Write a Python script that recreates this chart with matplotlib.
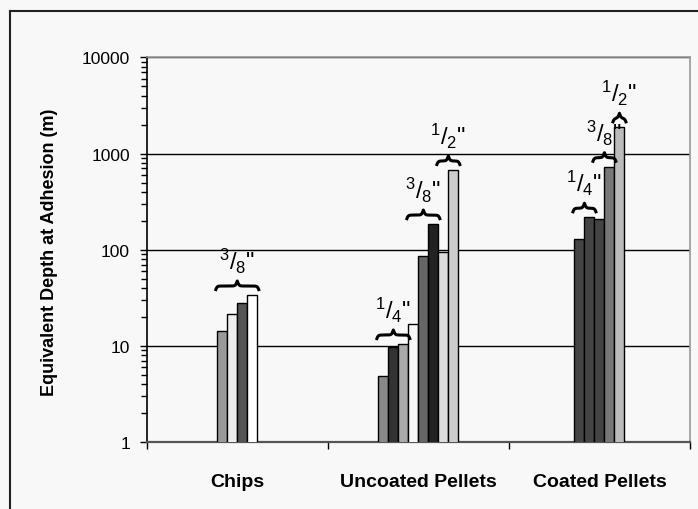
import numpy as np
import matplotlib
matplotlib.use('Agg')
import matplotlib.pyplot as plt
from matplotlib.lines import Line2D
from matplotlib.ticker import LogLocator, NullFormatter

plt.rcParams['font.family'] = ['Liberation Sans', 'DejaVu Sans']
plt.rcParams['mathtext.fontset'] = 'custom'
plt.rcParams['mathtext.rm'] = 'Liberation Sans'
plt.rcParams['mathtext.it'] = 'Liberation Sans'
plt.rcParams['mathtext.bf'] = 'Liberation Sans:bold'

# Data
categories = ['Chips', 'Uncoated Pellets', 'Coated Pellets']
chips_vals = [14.4, 21.5, 27.8, 33.9]
uncoated_vals = [4.85, 9.8, 10.5, 16.9, 85.6, 185, 95.5, 675]
coated_vals = [129, 218, 209, 730, 1875]

chips_colors = ['#999999', '#eeeeee', '#555555', '#ffffff']
uncoated_colors = ['#888888', '#333333', '#aaaaaa', '#f7f7f7', '#666666', '#222222', '#dddddd', '#cccccc']
coated_colors = ['#444444', '#444444', '#444444', '#777777', '#bbbbbb']

# size brackets: (first bar, last bar, numerator, denominator)
chips_braces = [(0, 3, '3', '8')]
uncoated_braces = [(0, 2, '1', '4'), (3, 5, '3', '8'), (6, 7, '1', '2')]
coated_braces = [(0, 1, '1', '4'), (2, 3, '3', '8'), (4, 4, '1', '2')]

groups = [(chips_vals, chips_colors, chips_braces),
          (uncoated_vals, uncoated_colors, uncoated_braces),
          (coated_vals, coated_colors, coated_braces)]

bg = '#f8f8f8'
fig = plt.figure(figsize=(6.98, 5.10), dpi=100, facecolor=bg)
ax = fig.add_axes([0.2102, 0.1308, 0.7783, 0.7549])
ax.set_facecolor(bg)
ax.set_yscale('log')
ax.set_ylim(1, 10000)
ax.set_xlim(-0.5, 2.5)

ax_w_px = 0.7783 * 698
ax_h_px = 0.7549 * 510
px_x = 3.0 / ax_w_px          # data units per pixel in x
px_dec = 4.0 / ax_h_px        # decades per pixel in y
w = 10 * px_x                 # bar width


def brace(x0, x1, ybase, h_px=10):
    # horizontal curly brace, tip upwards, ybase = value of the bottom
    n = 100
    half_px = (x1 - x0) / 2 / px_x
    b = 4 * half_px / 3.5
    u = np.linspace(0, 1, n)
    yh = 1 / (1 + np.exp(-b * u)) + 1 / (1 + np.exp(-b * (u - 1))) - 0.5
    yh = (yh - yh[0]) / (yh[-1] - yh[0])
    xs = np.concatenate([x0 + u * (x1 - x0) / 2, x0 + (x1 - x0) / 2 + u[1:] * (x1 - x0) / 2])
    ys = np.concatenate([yh, yh[-2::-1]])
    logy = np.log10(ybase) + ys * h_px * px_dec
    ax.plot(xs, 10 ** logy, color='black', lw=2.2, solid_capstyle='butt', zorder=4)
    return 10 ** (np.log10(ybase) + h_px * px_dec)


for ci, (vals, cols, brs) in enumerate(groups):
    n = len(vals)
    xs = ci + (np.arange(n) - (n - 1) / 2) * w
    ax.bar(xs, vals, width=w, color=cols, edgecolor='black', linewidth=1, zorder=3)
    for i0, i1, num, den in brs:
        left = xs[i0] - w / 2 - 0.2 * w
        right = xs[i1] + w / 2 + 0.2 * w
        top = max(vals[i0:i1 + 1])
        base = 10 ** (np.log10(top) + 4 * px_dec)
        ytip = brace(left, right, base)
        ax.annotate(r'$^{%s}/_{%s}$"' % (num, den), xy=((left + right) / 2, ytip),
                    xytext=(0, 6), textcoords='offset pixels', ha='center', va='bottom',
                    fontsize=17, annotation_clip=False, zorder=5)

ax.set_axisbelow(True)
ax.yaxis.grid(True, which='major', color='black', lw=1)
ax.set_yticks([1, 10, 100, 1000, 10000])
ax.set_yticklabels(['1', '10', '100', '1000', '10000'])
ax.yaxis.set_minor_locator(LogLocator(base=10, subs=np.arange(2, 10)))
ax.yaxis.set_minor_formatter(NullFormatter())
ax.tick_params(axis='y', which='major', length=5, width=1, pad=7, labelsize=12.5)
ax.tick_params(axis='y', which='minor', length=4, width=1)

ax.set_xticks([-0.5, 0.5, 1.5, 2.5])
ax.set_xticklabels([])
ax.set_xticks([0, 1, 2], minor=True)
ax.set_xticklabels(categories, minor=True, fontsize=14, fontweight='bold')
ax.tick_params(axis='x', which='major', length=5, width=1, direction='out')
ax.tick_params(axis='x', which='minor', length=0, pad=22)

ax.spines['top'].set_color('#999999')
ax.spines['right'].set_color('#999999')
ax.spines['left'].set_color('black')
ax.spines['bottom'].set_color('#555555')
for s in ax.spines.values():
    s.set_linewidth(1.2)
ax.spines['bottom'].set_linewidth(1.6)

fig.text(50 / 698, 1 - 252 / 510, 'Equivalent Depth at Adhesion (m)',
         rotation=90, ha='center', va='center', fontsize=13, fontweight='bold')

# outer chart frame
fig.add_artist(Line2D([10 / 698, 10 / 698], [0, 1 - 12 / 510], transform=fig.transFigure,
                      color='#222222', lw=1.5))
fig.add_artist(Line2D([10 / 698, 1], [1 - 12 / 510, 1 - 12 / 510], transform=fig.transFigure,
                      color='#222222', lw=1.5))

fig.savefig('out.png', dpi=100, facecolor=bg)
